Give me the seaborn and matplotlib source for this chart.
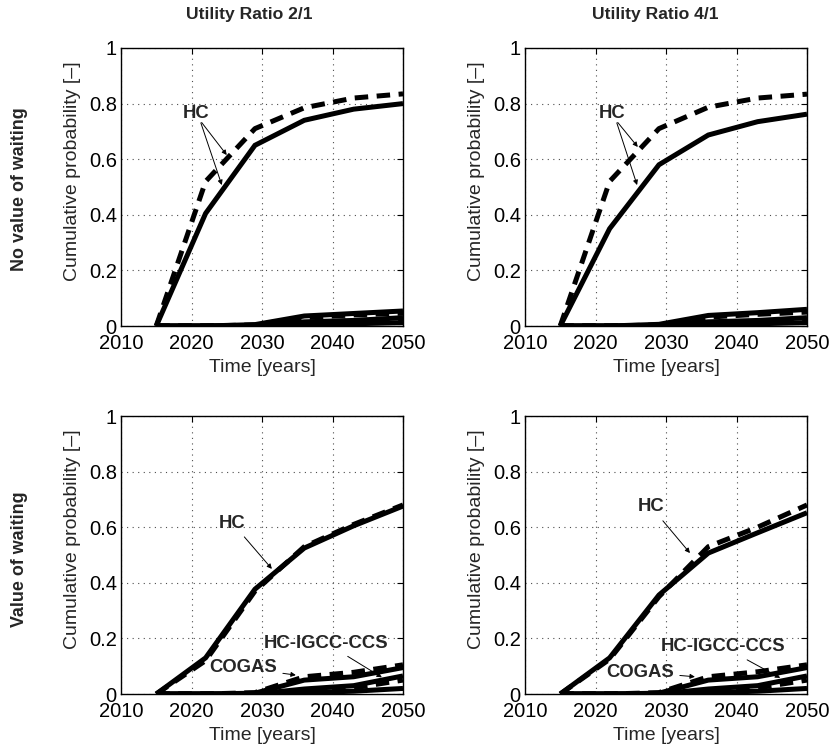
import matplotlib
matplotlib.use("Agg")
import matplotlib.pyplot as plt
import seaborn as sns
import pandas as pd

sns.set_theme(style="white")
plt.rcParams["font.family"] = ["Liberation Sans", "DejaVu Sans"]

years = [2015, 2022, 2029, 2036, 2043, 2050]

# Utility ratio 2/1, no value of waiting
nw21_hc_solid = [0, 0.405, 0.65, 0.74, 0.78, 0.80]
nw21_hc_dash = [0, 0.52, 0.71, 0.785, 0.82, 0.835]
nw21_cogas_solid = [0, 0, 0.005, 0.036, 0.045, 0.054]
nw21_cogas_dash = [0, 0, 0.004, 0.03, 0.04, 0.046]
nw21_igcc_solid = [0, 0, 0.002, 0.015, 0.02, 0.03]
nw21_igcc_dash = [0, 0, 0, 0.01, 0.02, 0.025]
nw21_other_solid = [0, 0, 0, 0.005, 0.008, 0.012]

# Utility ratio 4/1, no value of waiting
nw41_hc_solid = [0, 0.35, 0.58, 0.687, 0.735, 0.762]
nw41_hc_dash = [0, 0.52, 0.71, 0.787, 0.82, 0.834]
nw41_cogas_solid = [0, 0, 0.006, 0.038, 0.048, 0.06]
nw41_cogas_dash = [0, 0, 0.004, 0.032, 0.042, 0.05]
nw41_igcc_solid = [0, 0, 0.002, 0.015, 0.02, 0.03]
nw41_igcc_dash = [0, 0, 0, 0.01, 0.018, 0.022]
nw41_other_solid = [0, 0, 0, 0.005, 0.008, 0.012]

# Utility ratio 2/1, value of waiting
vw21_hc_solid = [0, 0.13, 0.377, 0.525, 0.605, 0.676]
vw21_hc_dash = [0, 0.12, 0.37, 0.53, 0.61, 0.68]
vw21_cogas_solid = [0, 0, 0.003, 0.05, 0.062, 0.095]
vw21_cogas_dash = [0, 0, 0.005, 0.062, 0.078, 0.105]
vw21_igcc_solid = [0, 0, 0, 0.018, 0.03, 0.065]
vw21_igcc_dash = [0, 0, 0, 0.012, 0.022, 0.05]
vw21_other_solid = [0, 0, 0, 0.005, 0.01, 0.02]

# Utility ratio 4/1, value of waiting
vw41_hc_solid = [0, 0.13, 0.356, 0.507, 0.58, 0.652]
vw41_hc_dash = [0, 0.125, 0.35, 0.53, 0.60, 0.68]
vw41_cogas_solid = [0, 0, 0.003, 0.05, 0.062, 0.095]
vw41_cogas_dash = [0, 0, 0.005, 0.062, 0.08, 0.105]
vw41_igcc_solid = [0, 0, 0, 0.018, 0.03, 0.065]
vw41_igcc_dash = [0, 0, 0, 0.012, 0.022, 0.05]
vw41_other_solid = [0, 0, 0, 0.005, 0.01, 0.02]

col_titles = ["Utility Ratio 2/1", "Utility Ratio 4/1"]
row_titles = ["No value of waiting", "Value of waiting"]
xticks = [2010, 2020, 2030, 2040, 2050]
yticks = [0, 0.2, 0.4, 0.6, 0.8, 1]
ytick_labels = ["0", "0.2", "0.4", "0.6", "0.8", "1"]

panels = {
    (0, 0): [nw21_other_solid, nw21_igcc_dash, nw21_igcc_solid, nw21_cogas_dash,
             nw21_cogas_solid, nw21_hc_dash, nw21_hc_solid],
    (0, 1): [nw41_other_solid, nw41_igcc_dash, nw41_igcc_solid, nw41_cogas_dash,
             nw41_cogas_solid, nw41_hc_dash, nw41_hc_solid],
    (1, 0): [vw21_other_solid, vw21_igcc_dash, vw21_igcc_solid, vw21_cogas_dash,
             vw21_cogas_solid, vw21_hc_dash, vw21_hc_solid],
    (1, 1): [vw41_other_solid, vw41_igcc_dash, vw41_igcc_solid, vw41_cogas_dash,
             vw41_cogas_solid, vw41_hc_dash, vw41_hc_solid],
}
styles = ["-", "dash", "-", "dash", "-", "dash", "-"]

W, H = 835, 747
fig = plt.figure(figsize=(W / 100, H / 100), dpi=100)

lefts = [121, 525]
tops = [48, 416]
aw, ah = 282, 278

TICK_FS = 14.5
dash_pattern = (0, (2.7, 1.7))
axes = {}
for (r, c), series in panels.items():
    ax = fig.add_axes([lefts[c] / W, 1 - (tops[r] + ah) / H, aw / W, ah / H])
    axes[(r, c)] = ax
    for vals, st in zip(series, styles):
        df = pd.DataFrame({"year": years, "p": vals})
        ls = dash_pattern if st == "dash" else "-"
        sns.lineplot(data=df, x="year", y="p", ax=ax, color="black",
                     linewidth=3.6, linestyle=ls, solid_joinstyle="miter",
                     dash_capstyle="butt", solid_capstyle="butt", zorder=3)
    ax.set_xlim(2010, 2050)
    ax.set_ylim(0, 1)
    ax.set_xticks(xticks)
    ax.set_xticklabels([str(t) for t in xticks])
    ax.set_yticks(yticks)
    ax.set_yticklabels(ytick_labels)
    ax.grid(True, color="0.3", linestyle=(0, (1, 4)), linewidth=0.8)
    ax.tick_params(direction="in", length=4, width=0.8, top=True, right=True,
                   labelsize=TICK_FS, colors="black")
    ax.tick_params(axis="x", pad=6)
    ax.tick_params(axis="y", pad=3)
    for s in ax.spines.values():
        s.set_visible(True)
        s.set_color("black")
        s.set_linewidth(1.0)
    ax.set_xlabel("Time [years]", fontsize=14, labelpad=4)
    ax.set_ylabel("Cumulative probability [\u2013]", fontsize=14)
    ax.yaxis.set_label_coords(-0.142, 0.557)
    ax.set_facecolor("white")

arrow = dict(arrowstyle="-|>", color="black", lw=0.7, mutation_scale=7,
             shrinkA=2, shrinkB=0)
bold = dict(fontsize=13.3, fontweight="bold", ha="center", va="center")

# HC labels, top row (two arrows each)
for c, tx in [(0, 2020.6), (1, 2022.3)]:
    ax = axes[(0, c)]
    ax.text(tx, 0.766, "HC", **bold)
    if c == 0:
        tips = [(2025.0, 0.615), (2024.3, 0.507)]
    else:
        tips = [(2026.0, 0.644), (2025.9, 0.507)]
    for tip in tips:
        ax.annotate("", xy=tip, xytext=(tx + 0.6, 0.74), arrowprops=arrow)

# Bottom row labels
ax = axes[(1, 0)]
ax.annotate("HC", xy=(2031.4, 0.45), xytext=(2025.8, 0.615), arrowprops=arrow, **bold)
ax.annotate("HC-IGCC-CCS", xy=(2047.0, 0.06), xytext=(2039.1, 0.183), arrowprops=arrow, **bold)
ax.annotate("COGAS", xy=(2034.8, 0.068), xytext=(2027.3, 0.094), arrowprops=arrow, **bold)

ax = axes[(1, 1)]
ax.annotate("HC", xy=(2033.4, 0.507), xytext=(2027.9, 0.673), arrowprops=arrow, **bold)
ax.annotate("HC-IGCC-CCS", xy=(2046.2, 0.058), xytext=(2038.1, 0.17), arrowprops=arrow, **bold)
ax.annotate("COGAS", xy=(2034.1, 0.062), xytext=(2026.3, 0.079), arrowprops=arrow, **bold)

# Column and row headings
fig.text(249 / W, 1 - 15 / H, col_titles[0], fontsize=12.6, fontweight="bold",
         ha="center", va="center")
fig.text(655 / W, 1 - 15 / H, col_titles[1], fontsize=12.6, fontweight="bold",
         ha="center", va="center")
fig.text(20 / W, 1 - 189 / H, row_titles[0], fontsize=12.9, fontweight="bold",
         ha="center", va="center", rotation=90)
fig.text(20 / W, 1 - 559 / H, row_titles[1], fontsize=12.9, fontweight="bold",
         ha="center", va="center", rotation=90)

fig.patch.set_facecolor("white")
fig.savefig("out.png", dpi=100, facecolor="white")
